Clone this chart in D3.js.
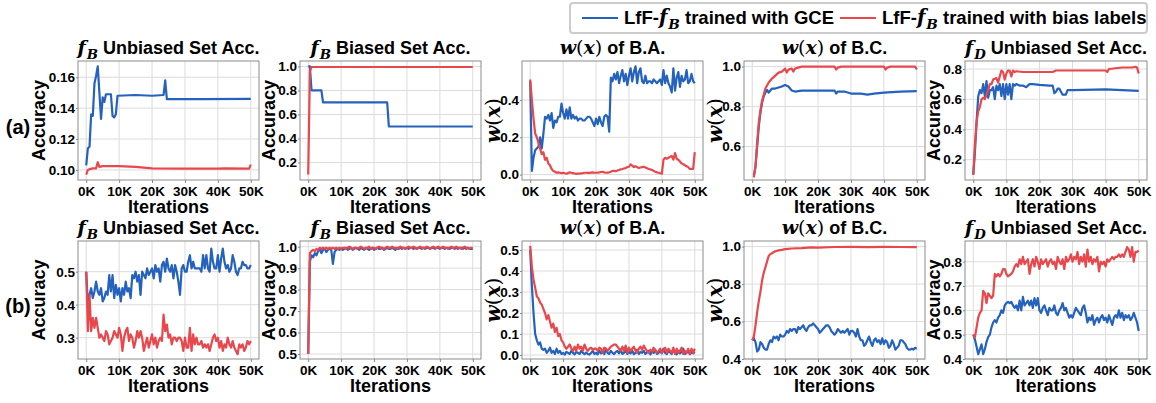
<!DOCTYPE html>
<html lang="en">
<head>
<meta charset="utf-8">
<title>LfF f_B comparison</title>
<script src="https://d3js.org/d3.v7.min.js"></script>
<style>
  body { margin: 0; background: #fff; }
  .tick text { font-family: "Liberation Sans", Arial, sans-serif; font-weight: bold; font-size: 13.5px; fill: #000; }
  .tick line { stroke: #888; }
  .sans { font-family: "Liberation Sans", Arial, sans-serif; font-weight: bold; }
  .mi { font-family: "DejaVu Serif", serif; font-style: italic; }
  .mu { font-family: "DejaVu Serif", serif; font-style: normal; }
</style>
</head>
<body>
<script>
// iteration grid in thousands (logged every 500 its)
const ITER = d3.range(0, 50.5, 0.5);
const xTicks = [0, 10, 20, 30, 40, 50];

// ---- row (a) ----
const uA_gce_x = [0,0.5,1,1.5,2,2.5,3,3.5,4,4.5,5,5.5,6,6.5,7.5,8,8.5,9,9.5,15,20,23.5,24,24.5,35,50];
const uA_gce_y = [0.103,0.114,0.115,0.136,0.135,0.156,0.161,0.167,0.150,0.133,0.147,0.144,0.149,0.149,0.149,0.135,0.134,0.136,0.148,0.1485,0.148,0.1485,0.158,0.1458,0.1458,0.146];
const uA_bias_x = [0,0.5,1,2,3,3.5,4,5,10,15,20,30,40,42,49.5,50];
const uA_bias_y = [0.097,0.100,0.1005,0.101,0.101,0.105,0.102,0.1025,0.1025,0.102,0.101,0.1008,0.1008,0.101,0.1008,0.1035];

const bA_gce_x = [0,0.5,1,4,4.5,24,24.5,50];
const bA_gce_y = [1.0,1.0,0.8,0.8,0.7,0.7,0.5,0.5];
const bA_bias_x = [0,0.5,1,50];
const bA_bias_y = [0.1,0.96,0.995,0.995];

const wbaA_gce = [
  0.50,0.02,0.09,0.13,0.14,0.15,0.20,0.14,0.22,0.31,
  0.30,0.32,0.29,0.33,0.25,0.29,0.28,0.31,0.31,0.38,
  0.33,0.30,0.35,0.30,0.36,0.30,0.32,0.30,0.31,0.29,
  0.30,0.30,0.29,0.29,0.30,0.31,0.31,0.30,0.28,0.26,
  0.30,0.27,0.31,0.28,0.26,0.31,0.32,0.31,0.23,0.52,
  0.50,0.54,0.51,0.55,0.49,0.53,0.56,0.50,0.54,0.48,
  0.53,0.57,0.50,0.55,0.58,0.49,0.55,0.57,0.50,0.49,
  0.53,0.49,0.50,0.50,0.49,0.51,0.50,0.49,0.50,0.51,
  0.48,0.56,0.49,0.53,0.49,0.47,0.44,0.57,0.45,0.52,
  0.55,0.47,0.53,0.50,0.51,0.56,0.49,0.50,0.54,0.50,
  0.49];
const wbaA_bias = [
  0.51,0.40,0.30,0.22,0.20,0.17,0.14,0.11,0.12,0.08,
  0.09,0.06,0.05,0.03,0.02,0.015,0.01,0.012,0.01,0.008,
  0.01,0.007,0.005,0.008,0.012,0.01,0.008,0.006,0.004,0.006,
  0.005,0.007,0.008,0.01,0.01,0.009,0.009,0.011,0.012,0.01,
  0.01,0.011,0.012,0.014,0.015,0.012,0.01,0.011,0.012,0.015,
  0.02,0.02,0.018,0.022,0.025,0.028,0.03,0.033,0.035,0.04,
  0.042,0.055,0.048,0.04,0.045,0.04,0.035,0.038,0.04,0.042,
  0.038,0.034,0.03,0.028,0.025,0.02,0.015,0.012,0.01,0.007,
  0.005,0.08,0.09,0.085,0.09,0.095,0.10,0.08,0.115,0.085,
  0.08,0.07,0.06,0.055,0.05,0.045,0.04,0.03,0.03,0.03,
  0.12];

const wbcA_gce_x = [0.5,1,1.5,2,2.5,3,3.5,4,4.5,5,6,7,8,9,10,11,12,13,15,20,25,25.5,26,28,30,33,35,37,40,45,50];
const wbcA_gce_y = [0.455,0.50,0.60,0.70,0.77,0.82,0.85,0.87,0.883,0.87,0.89,0.89,0.895,0.90,0.908,0.90,0.88,0.875,0.88,0.88,0.88,0.865,0.875,0.875,0.865,0.865,0.86,0.865,0.87,0.875,0.877];
const wbcA_bias_x = [0.5,1,1.5,2,2.5,3,3.5,4,5,6,7,8,9,10,10.5,11,12,12.5,13,14,15,25,25.5,26,27,40,40.5,41,42,49.5,50];
const wbcA_bias_y = [0.445,0.50,0.62,0.72,0.78,0.83,0.86,0.89,0.92,0.94,0.955,0.97,0.975,0.99,0.97,0.985,0.99,0.975,0.99,0.995,1.0,1.0,0.985,0.995,1.0,1.0,0.985,0.995,1.0,1.0,0.985];

const uDA_gce_x = [0,0.5,1,1.5,2,2.5,3,3.5,4,4.5,5,5.5,6,6.5,7,7.5,8,8.5,9,9.5,10,10.5,11,11.5,12,12.5,13,14,15,16,17,18,20,23,24,24.5,25,25.5,26,26.5,27,28,28.5,30,40,50];
const uDA_gce_y = [0.10,0.25,0.45,0.62,0.66,0.64,0.70,0.62,0.72,0.61,0.66,0.66,0.68,0.60,0.69,0.66,0.70,0.62,0.70,0.60,0.70,0.63,0.70,0.60,0.70,0.69,0.70,0.69,0.69,0.68,0.70,0.70,0.695,0.69,0.69,0.64,0.65,0.67,0.67,0.65,0.63,0.63,0.66,0.66,0.665,0.655];
const uDA_bias_x = [0,0.5,1,1.5,2,2.5,3,3.5,4,4.5,5,5.5,6,7,7.5,8,8.5,9,9.5,10,10.5,11,11.5,12,12.5,13,15,20,24,25,30,35,40,40.5,41,45,48,49,49.5,50];
const uDA_bias_y = [0.10,0.30,0.45,0.52,0.55,0.60,0.61,0.60,0.63,0.66,0.70,0.70,0.73,0.74,0.71,0.75,0.79,0.78,0.73,0.77,0.79,0.79,0.75,0.79,0.78,0.785,0.78,0.78,0.78,0.79,0.79,0.79,0.79,0.78,0.80,0.81,0.81,0.815,0.81,0.77];

// ---- row (b) ----
const uB_gce = [
  0.50,0.40,0.43,0.45,0.42,0.44,0.47,0.44,0.43,0.45,
  0.41,0.42,0.44,0.43,0.49,0.44,0.49,0.42,0.46,0.43,
  0.45,0.41,0.45,0.43,0.47,0.44,0.45,0.42,0.49,0.48,
  0.50,0.47,0.49,0.43,0.50,0.49,0.48,0.51,0.49,0.50,
  0.51,0.48,0.52,0.50,0.51,0.47,0.52,0.53,0.50,0.54,
  0.51,0.50,0.52,0.48,0.52,0.50,0.47,0.43,0.51,0.52,
  0.50,0.50,0.53,0.55,0.51,0.53,0.51,0.51,0.51,0.51,
  0.50,0.55,0.51,0.55,0.51,0.50,0.57,0.53,0.51,0.51,
  0.55,0.50,0.54,0.57,0.53,0.51,0.52,0.50,0.51,0.55,
  0.53,0.50,0.49,0.51,0.51,0.53,0.52,0.52,0.51,0.51,
  0.52];
const uB_bias = [
  0.50,0.32,0.43,0.32,0.36,0.33,0.36,0.33,0.30,0.31,
  0.30,0.29,0.32,0.31,0.28,0.29,0.30,0.32,0.31,0.30,
  0.33,0.31,0.26,0.30,0.32,0.33,0.29,0.31,0.30,0.27,
  0.29,0.32,0.30,0.32,0.30,0.26,0.28,0.30,0.27,0.29,
  0.31,0.28,0.30,0.27,0.29,0.30,0.29,0.37,0.32,0.34,
  0.30,0.31,0.28,0.30,0.30,0.29,0.30,0.30,0.29,0.26,
  0.30,0.27,0.27,0.33,0.26,0.31,0.28,0.30,0.28,0.28,
  0.29,0.27,0.28,0.27,0.28,0.26,0.28,0.30,0.31,0.29,
  0.30,0.27,0.29,0.26,0.28,0.27,0.30,0.28,0.27,0.29,
  0.27,0.26,0.25,0.28,0.27,0.28,0.26,0.27,0.29,0.28,
  0.29];

const bB_gce = [
  0.50,0.93,0.96,0.95,0.97,0.96,0.98,0.99,0.97,0.985,
  0.99,0.975,0.985,0.99,0.985,0.92,0.975,0.985,0.99,0.985,
  0.99,0.985,0.99,0.995,0.985,0.99,0.995,0.985,0.99,0.995,
  0.99,0.985,0.995,0.99,0.985,0.995,0.99,0.985,0.99,0.995,
  0.985,0.99,0.995,0.99,0.99,0.995,0.985,0.99,0.995,0.99,
  0.99,0.995,0.99,0.985,0.995,0.99,0.995,0.99,0.995,0.99,
  0.995,0.99,0.995,0.995,0.99,0.995,0.99,0.995,0.995,0.99,
  0.995,0.99,0.995,0.995,0.99,0.995,0.995,0.99,0.995,0.995,
  0.99,0.995,0.995,0.99,0.995,0.995,0.99,0.995,0.995,0.99,
  0.995,0.99,0.995,0.995,0.99,0.995,0.99,0.995,0.99,0.99,
  0.99];
const bB_bias = [
  0.50,0.97,0.98,0.985,0.98,0.99,0.985,0.995,0.99,0.995,
  0.99,0.995,0.99,0.995,0.99,0.995,0.99,0.995,0.99,0.995,
  0.99,0.995,0.995,0.99,0.995,1.0,0.995,0.99,0.995,0.995,
  0.99,0.995,1.0,0.995,0.99,0.995,0.995,1.0,0.99,0.995,
  0.995,0.99,0.995,1.0,0.995,0.995,0.99,0.995,1.0,0.995,
  0.995,1.0,0.995,0.995,0.99,0.995,1.0,0.995,0.995,0.99,
  0.995,1.0,0.995,0.995,1.0,0.995,0.99,0.995,1.0,0.995,
  0.995,0.995,1.0,0.995,0.99,0.995,1.0,0.995,0.995,1.0,
  0.995,0.995,1.0,0.995,0.995,0.99,0.995,1.0,0.995,0.995,
  1.0,0.995,0.995,0.99,0.995,1.0,0.995,0.995,0.99,0.995,
  0.995];

const wbaB_gce = [
  0.50,0.33,0.20,0.10,0.07,0.05,0.06,0.03,0.025,0.03,
  0.01,0.02,0.035,0.01,0.02,0.005,0.03,0.01,0.02,0.005,
  0.01,0.002,0.015,0.01,0.005,0.02,0.01,0.003,0.015,0.01,
  0.005,0.02,0.01,0.004,0.012,0.005,0.002,0.01,0.02,0.005,
  0.01,0.003,0.02,0.008,0.015,0.004,0.03,0.01,0.005,0.02,
  0.01,0.004,0.015,0.02,0.008,0.025,0.005,0.01,0.02,0.005,
  0.015,0.008,0.02,0.004,0.01,0.025,0.005,0.015,0.01,0.02,
  0.005,0.012,0.02,0.003,0.015,0.01,0.025,0.005,0.01,0.02,
  0.008,0.03,0.01,0.004,0.02,0.012,0.005,0.025,0.01,0.003,
  0.02,0.008,0.015,0.03,0.005,0.01,0.02,0.004,0.012,0.008,
  0.015];
const wbaB_bias = [
  0.52,0.42,0.36,0.32,0.28,0.27,0.25,0.24,0.22,0.20,
  0.17,0.19,0.16,0.13,0.15,0.11,0.13,0.09,0.10,0.07,
  0.06,0.04,0.03,0.04,0.05,0.03,0.02,0.04,0.02,0.05,
  0.03,0.04,0.02,0.05,0.03,0.02,0.03,0.035,0.025,0.03,
  0.03,0.02,0.035,0.03,0.01,0.035,0.03,0.02,0.03,0.04,
  0.045,0.05,0.05,0.04,0.03,0.02,0.04,0.02,0.045,0.01,
  0.035,0.02,0.03,0.04,0.02,0.01,0.03,0.04,0.025,0.045,
  0.03,0.02,0.01,0.025,0.015,0.035,0.02,0.01,0.02,0.03,
  0.01,0.02,0.035,0.01,0.03,0.02,0.01,0.035,0.005,0.03,
  0.01,0.02,0.035,0.005,0.02,0.01,0.03,0.005,0.03,0.01,
  0.03];

const wbcB_gce = [
  0.50,0.51,0.49,0.44,0.45,0.49,0.48,0.46,0.45,0.45,
  0.48,0.50,0.49,0.52,0.51,0.52,0.50,0.53,0.52,0.52,
  0.53,0.55,0.54,0.56,0.55,0.56,0.56,0.54,0.57,0.56,
  0.57,0.58,0.56,0.55,0.57,0.58,0.58,0.59,0.58,0.57,
  0.56,0.54,0.55,0.56,0.57,0.58,0.58,0.57,0.55,0.54,
  0.53,0.54,0.56,0.55,0.54,0.55,0.54,0.55,0.56,0.53,
  0.55,0.55,0.54,0.52,0.56,0.52,0.50,0.50,0.47,0.48,
  0.50,0.52,0.49,0.47,0.50,0.51,0.49,0.50,0.48,0.51,
  0.48,0.50,0.49,0.46,0.47,0.50,0.48,0.45,0.46,0.47,
  0.50,0.50,0.49,0.48,0.46,0.45,0.45,0.455,0.45,0.46,
  0.455];
const wbcB_bias_x = [0,0.5,1,1.5,2,2.5,3,3.5,4,4.5,5,5.5,6,7,8,9,10,12,15,18,20,25,30,35,40,45,50];
const wbcB_bias_y = [0.50,0.52,0.58,0.65,0.71,0.76,0.82,0.86,0.89,0.92,0.95,0.96,0.965,0.975,0.98,0.983,0.987,0.99,0.992,0.996,0.995,0.998,0.999,0.997,0.999,0.998,0.997];

const uDB_gce = [
  0.50,0.48,0.45,0.42,0.44,0.46,0.42,0.44,0.47,0.49,
  0.50,0.53,0.55,0.56,0.55,0.57,0.58,0.60,0.59,0.62,
  0.63,0.635,0.63,0.635,0.62,0.61,0.62,0.60,0.64,0.60,
  0.655,0.62,0.63,0.64,0.62,0.64,0.61,0.65,0.62,0.65,
  0.60,0.59,0.61,0.62,0.60,0.58,0.61,0.60,0.60,0.62,
  0.59,0.58,0.60,0.61,0.63,0.60,0.61,0.59,0.57,0.58,
  0.57,0.59,0.61,0.60,0.59,0.58,0.61,0.62,0.59,0.55,
  0.57,0.56,0.58,0.54,0.56,0.57,0.55,0.57,0.58,0.56,
  0.57,0.55,0.58,0.56,0.54,0.57,0.58,0.57,0.60,0.57,
  0.59,0.56,0.58,0.57,0.58,0.56,0.57,0.59,0.57,0.55,
  0.515];
const uDB_bias = [
  0.50,0.49,0.53,0.57,0.59,0.60,0.68,0.67,0.63,0.67,
  0.66,0.65,0.66,0.75,0.74,0.75,0.74,0.75,0.77,0.77,
  0.75,0.74,0.745,0.75,0.76,0.78,0.79,0.78,0.81,0.79,
  0.82,0.79,0.80,0.81,0.75,0.79,0.81,0.78,0.82,0.80,
  0.77,0.81,0.79,0.80,0.81,0.78,0.80,0.81,0.79,0.80,
  0.77,0.82,0.80,0.79,0.81,0.77,0.82,0.80,0.81,0.83,
  0.80,0.82,0.81,0.84,0.79,0.82,0.80,0.83,0.78,0.85,
  0.80,0.82,0.79,0.81,0.80,0.82,0.76,0.80,0.79,0.80,
  0.78,0.81,0.80,0.81,0.82,0.81,0.82,0.82,0.83,0.82,
  0.83,0.82,0.84,0.86,0.85,0.82,0.86,0.80,0.84,0.84,
  0.845];

const seriesNames = ["LfF-", "LfF-"];
const seriesTails = [" trained with GCE", " trained with bias labels"];
const colors = ["#2462bd", "#e8474c"];

// panel layout
const rows = [{top: 61, bottom: 180, tag: "(a)"}, {top: 241, bottom: 359, tag: "(b)"}];
const cols = [[78, 259], [300, 481], [522, 703], [744, 925], [965, 1147]];

const panels = [
  {r:0, c:0, dom:[0.0935,0.1705], ticks:[0.10,0.12,0.14,0.16], fmt:".2f", math:"f", sub:"B", title:" Unbiased Set Acc.", yl:"acc",
   lines:[[uA_gce_x,uA_gce_y],[uA_bias_x,uA_bias_y]]},
  {r:0, c:1, dom:[0.055,1.045], ticks:[0.2,0.4,0.6,0.8,1.0], fmt:".1f", math:"f", sub:"B", title:" Biased Set Acc.", yl:"acc",
   lines:[[bA_gce_x,bA_gce_y],[bA_bias_x,bA_bias_y]]},
  {r:0, c:2, dom:[-0.029,0.609], ticks:[0.0,0.2,0.4], fmt:".1f", math:"w", title:" of B.A.", yl:"w",
   lines:[[ITER,wbaA_gce],[ITER,wbaA_bias]]},
  {r:0, c:3, dom:[0.432,1.028], ticks:[0.6,0.8,1.0], fmt:".1f", math:"w", title:" of B.C.", yl:"w",
   lines:[[wbcA_gce_x,wbcA_gce_y],[wbcA_bias_x,wbcA_bias_y]]},
  {r:0, c:4, dom:[0.065,0.853], ticks:[0.2,0.4,0.6,0.8], fmt:".1f", math:"f", sub:"D", title:" Unbiased Set Acc.", yl:"acc",
   lines:[[uDA_gce_x,uDA_gce_y],[uDA_bias_x,uDA_bias_y]]},
  {r:1, c:0, dom:[0.2355,0.593], ticks:[0.3,0.4,0.5], fmt:".1f", math:"f", sub:"B", title:" Unbiased Set Acc.", yl:"acc",
   lines:[[ITER,uB_gce],[ITER,uB_bias]]},
  {r:1, c:1, dom:[0.4767,1.0266], ticks:[0.5,0.6,0.7,0.8,0.9,1.0], fmt:".1f", math:"f", sub:"B", title:" Biased Set Acc.", yl:"acc",
   lines:[[ITER,bB_gce],[ITER,bB_bias]]},
  {r:1, c:2, dom:[-0.019,0.543], ticks:[0.0,0.1,0.2,0.3,0.4,0.5], fmt:".1f", math:"w", title:" of B.A.", yl:"w",
   lines:[[ITER,wbaB_gce],[ITER,wbaB_bias]]},
  {r:1, c:3, dom:[0.40,1.03], ticks:[0.4,0.6,0.8,1.0], fmt:".1f", math:"w", title:" of B.C.", yl:"w",
   lines:[[ITER,wbcB_gce],[wbcB_bias_x,wbcB_bias_y]]},
  {r:1, c:4, dom:[0.400,0.885], ticks:[0.4,0.5,0.6,0.7,0.8], fmt:".1f", math:"f", sub:"D", title:" Unbiased Set Acc.", yl:"acc",
   lines:[[ITER,uDB_gce],[ITER,uDB_bias]]}
];

const svg = d3.select("body").append("svg")
  .attr("width", 1156).attr("height", 403);

// writes f_B or w(x) as tspans, returns the dy needed to get back to the baseline
function addMath(t, kind, sub, size) {
  if (kind === "f") {
    t.append("tspan").attr("class", "mi").attr("font-weight", "bold").attr("font-size", size).text("f");
    t.append("tspan").attr("class", "mi").attr("font-weight", "bold").attr("font-size", size * 0.7)
      .attr("dy", size * 0.28).attr("dx", 1).text(sub);
    return -size * 0.28;
  }
  t.append("tspan").attr("class", "mi").attr("font-weight", "bold").attr("font-size", size).text("w");
  t.append("tspan").attr("class", "mu").attr("font-weight", "normal").attr("font-size", size).text("(");
  t.append("tspan").attr("class", "mi").attr("font-weight", "bold").attr("font-size", size).text("x");
  t.append("tspan").attr("class", "mu").attr("font-weight", "normal").attr("font-size", size).text(")");
  return 0;
}

const xScale = (c) => d3.scaleLinear().domain([-2.5, 52.5]).range(cols[c]);

panels.forEach((p, i) => {
  const top = rows[p.r].top, bottom = rows[p.r].bottom;
  const [x0, x1] = cols[p.c];
  const x = xScale(p.c);
  const y = d3.scaleLinear().domain(p.dom).range([bottom, top]);
  const g = svg.append("g");

  // grid
  g.append("g").selectAll("line").data(xTicks).join("line")
    .attr("x1", d => x(d)).attr("x2", d => x(d)).attr("y1", top).attr("y2", bottom)
    .attr("stroke", "#dcdcdc").attr("stroke-width", 1);
  g.append("g").selectAll("line").data(p.ticks).join("line")
    .attr("x1", x0).attr("x2", x1).attr("y1", d => y(d)).attr("y2", d => y(d))
    .attr("stroke", "#dcdcdc").attr("stroke-width", 1);

  // axes
  g.append("g").attr("transform", `translate(0,${bottom})`)
    .call(d3.axisBottom(x).tickValues(xTicks).tickFormat(d => d + "K").tickSize(3).tickPadding(3))
    .call(a => a.select(".domain").remove());
  g.append("g").attr("transform", `translate(${x0},0)`)
    .call(d3.axisLeft(y).tickValues(p.ticks).tickFormat(d3.format(p.fmt)).tickSize(2).tickPadding(1))
    .call(a => a.select(".domain").remove());

  // lines
  svg.append("clipPath").attr("id", "clip" + i)
    .append("rect").attr("x", x0).attr("y", top).attr("width", x1 - x0).attr("height", bottom - top);
  const line = d3.line().x(d => x(d[0])).y(d => y(d[1]));
  p.lines.forEach((s, k) => {
    g.append("path").datum(d3.zip(s[0], s[1]))
      .attr("clip-path", `url(#clip${i})`)
      .attr("d", line).attr("fill", "none")
      .attr("stroke", colors[k]).attr("stroke-width", 2.2)
      .attr("stroke-linejoin", "round");
  });

  // frame
  g.append("rect").attr("x", x0).attr("y", top).attr("width", x1 - x0).attr("height", bottom - top)
    .attr("fill", "none").attr("stroke", "#8c8c8c").attr("stroke-width", 1);

  // title
  const t = g.append("text").attr("x", (x0 + x1) / 2).attr("y", top - 7)
    .attr("text-anchor", "middle").attr("class", "sans").attr("font-size", 18);
  const back = addMath(t, p.math, p.sub, 19);
  t.append("tspan").attr("dy", back).text(p.title);

  // x label
  g.append("text").attr("class", "sans").attr("font-size", 18)
    .attr("x", (x0 + x1) / 2).attr("y", bottom + 33).attr("text-anchor", "middle").text("Iterations");

  // y label
  const off = p.yl === "acc" ? (p.c === 0 ? 33 : 25) : 22;
  const yl = g.append("text").attr("text-anchor", "middle")
    .attr("transform", `translate(${x0 - off},${(top + bottom) / 2}) rotate(-90)`);
  if (p.yl === "acc") {
    yl.attr("class", "sans").attr("font-size", 18).text("Accuracy");
  } else {
    addMath(yl, "w", null, 20);
  }
});

// row tags
rows.forEach(r => {
  svg.append("text").attr("x", 18).attr("y", (r.top + r.bottom) / 2 + 13)
    .attr("text-anchor", "middle").attr("font-family", "Liberation Sans, Arial, sans-serif")
    .attr("font-weight", "bold").attr("font-size", 20).text(r.tag);
});

// legend
const lg = svg.append("g");
lg.append("rect").attr("x", 570).attr("y", 3).attr("width", 577).attr("height", 30)
  .attr("rx", 3).attr("fill", "#fff").attr("stroke", "#cccccc").attr("stroke-width", 2);
const legX = [582, 840];
seriesNames.forEach((n, k) => {
  lg.append("line").attr("x1", legX[k]).attr("x2", legX[k] + 36).attr("y1", 18).attr("y2", 18)
    .attr("stroke", colors[k]).attr("stroke-width", 2.2);
  const t = lg.append("text").attr("x", legX[k] + 42).attr("y", 24)
    .attr("class", "sans").attr("font-size", 18.5);
  t.append("tspan").text(n);
  const back = addMath(t, "f", "B", 19.5);
  t.append("tspan").attr("dy", back).text(seriesTails[k]);
});
</script>
</body>
</html>
